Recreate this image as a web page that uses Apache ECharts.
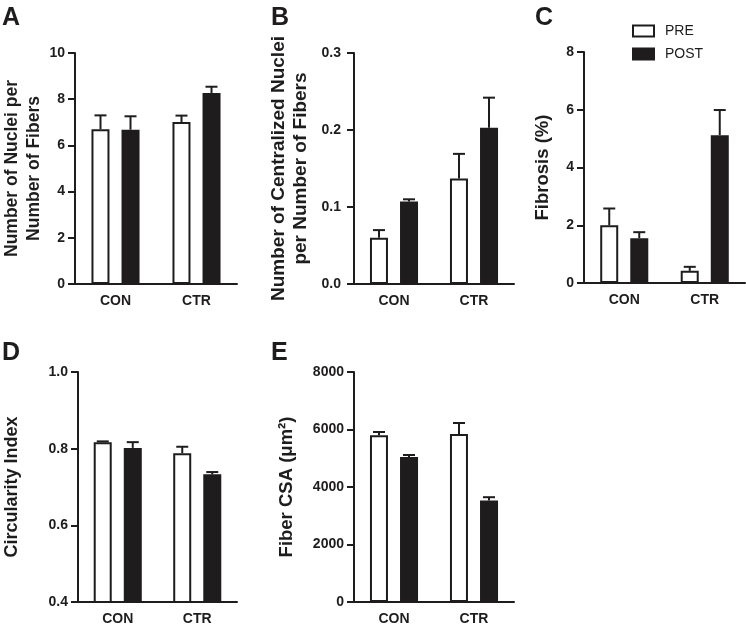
<!DOCTYPE html>
<html>
<head>
<meta charset="utf-8">
<script src="https://cdn.jsdelivr.net/npm/echarts@6/dist/echarts.min.js"></script>
<style>html,body{margin:0;padding:0;background:#fff;}#c{width:746px;height:632px;}</style>
</head>
<body>
<div id="c"></div>
<script>
const categories = ['CON', 'CTR'];
// Panel A: nuclei per fiber
const aPre = [6.70, 7.01], aPreCap = [7.30, 7.29];
const aPost = [6.68, 8.27], aPostCap = [7.26, 8.54];
// Panel B: centralized nuclei per fiber
const bPre = [0.060, 0.137], bPreCap = [0.070, 0.169];
const bPost = [0.107, 0.203], bPostCap = [0.110, 0.242];
// Panel C: fibrosis (%)
const cPre = [2.00, 0.42], cPreCap = [2.58, 0.56];
const cPost = [1.55, 5.12], cPostCap = [1.76, 5.99];
// Panel D: circularity index
const dPre = [0.817, 0.788], dPreCap = [0.819, 0.805];
const dPost = [0.802, 0.733], dPostCap = [0.817, 0.739];
// Panel E: fiber CSA
const ePre = [5798, 5843], ePreCap = [5913, 6226];
const ePost = [5043, 3530], ePostCap = [5113, 3645];

const FONT = "'Liberation Sans', Arial, sans-serif";
const INK = '#1e1c1d';

const panels = [
  {letter: 'A', pre: aPre, preCap: aPreCap, post: aPost, postCap: aPostCap, min: 0, max: 10, interval: 2, dec: 0,
   name: 'Number of Nuclei per\nNumber of Fibers', nameGap: 30, nameSize: 17.5, labelMargin: 10,
   grid: {left: 73, top: 53, width: 164, height: 231}, lx: -3, ly: 1},
  {letter: 'B', pre: bPre, preCap: bPreCap, post: bPost, postCap: bPostCap, min: 0, max: 0.3, interval: 0.1, dec: 1,
   name: 'Number of Centralized Nuclei\nper Number of Fibers', nameGap: 42, nameSize: 19, labelMargin: 13,
   grid: {left: 354, top: 53, width: 160, height: 231}, lx: 266, ly: 1},
  {letter: 'C', pre: cPre, preCap: cPreCap, post: cPost, postCap: cPostCap, min: 0, max: 8, interval: 2, dec: 0,
   name: 'Fibrosis (%)', nameGap: 30, nameSize: 18.5, labelMargin: 10,
   grid: {left: 584, top: 52, width: 161, height: 231}, lx: 530, ly: 1},
  {letter: 'D', pre: dPre, preCap: dPreCap, post: dPost, postCap: dPostCap, min: 0.4, max: 1.0, interval: 0.2, dec: 1,
   name: 'Circularity Index', nameGap: 55, nameSize: 18, labelMargin: 10,
   grid: {left: 73, top: 372, width: 164, height: 230}, lx: -3, ly: 336},
  {letter: 'E', pre: ePre, preCap: ePreCap, post: ePost, postCap: ePostCap, min: 0, max: 8000, interval: 2000, dec: 0,
   name: 'Fiber CSA (\u03bcm\u00b2)', nameGap: 56, nameSize: 18.5, labelMargin: 10,
   grid: {left: 354, top: 372, width: 160, height: 230}, lx: 266, ly: 336}
];

function errRender(off) {
  return function (params, api) {
    const x = api.value(0), m = api.value(1), u = api.value(2);
    const p0 = api.coord([x, m]);
    const p1 = api.coord([x, u]);
    const cx = p0[0] + off;
    const st = {stroke: INK, lineWidth: 2};
    return {type: 'group', children: [
      {type: 'line', shape: {x1: cx, y1: p0[1], x2: cx, y2: p1[1]}, style: st},
      {type: 'line', shape: {x1: cx - 6, y1: p1[1], x2: cx + 6, y2: p1[1]}, style: st}
    ]};
  };
}

const option = {
  animation: false,
  backgroundColor: '#fff',
  textStyle: {fontFamily: FONT},
  title: panels.map(p => ({text: p.letter, left: p.lx, top: p.ly,
    textStyle: {fontFamily: FONT, fontSize: 25, fontWeight: 'bold', color: INK}})),
  legend: {
    data: ['PRE', 'POST'], orient: 'vertical', left: 627, top: 19, itemWidth: 21, itemHeight: 11, itemGap: 9,
    icon: 'rect', selectedMode: false,
    textStyle: {fontFamily: FONT, fontSize: 14, color: INK, padding: [0, 0, 0, 6]}
  },
  grid: panels.map(p => Object.assign({containLabel: false}, p.grid)),
  xAxis: panels.map((p, i) => ({
    type: 'category', gridIndex: i, data: categories,
    axisLine: {lineStyle: {color: INK, width: 2}},
    axisTick: {alignWithLabel: true, length: 6, lineStyle: {color: INK, width: 2}},
    axisLabel: {fontFamily: FONT, fontSize: 14, fontWeight: 'bold', color: INK, margin: 10},
    splitLine: {show: false}
  })),
  yAxis: panels.map((p, i) => ({
    type: 'value', gridIndex: i, min: p.min, max: p.max, interval: p.interval,
    name: p.name, nameLocation: 'middle', nameGap: p.nameGap, nameRotate: 90,
    nameTextStyle: {fontFamily: FONT, fontSize: p.nameSize, fontWeight: 'bold', color: INK, lineHeight: 22},
    axisLine: {show: true, lineStyle: {color: INK, width: 2}},
    axisTick: {show: true, length: 7, lineStyle: {color: INK, width: 2}},
    axisLabel: {fontFamily: FONT, fontSize: 14, fontWeight: 'bold', color: INK, margin: p.labelMargin,
      formatter: v => v.toFixed(p.dec)},
    splitLine: {show: false}
  })),
  series: []
};

panels.forEach((p, i) => {
  option.series.push({
    name: 'PRE', type: 'bar', xAxisIndex: i, yAxisIndex: i, data: p.pre,
    barWidth: 18, barGap: '67%', z: 3,
    itemStyle: {color: '#ffffff', borderColor: INK, borderWidth: 2}
  });
  option.series.push({
    name: 'POST', type: 'bar', xAxisIndex: i, yAxisIndex: i, data: p.post,
    barWidth: 18, barGap: '67%', z: 3,
    itemStyle: {color: INK, borderColor: INK, borderWidth: 2}
  });
  option.series.push({
    type: 'custom', xAxisIndex: i, yAxisIndex: i, z: 2,
    data: p.pre.map((v, k) => [k, v, p.preCap[k]]),
    encode: {x: 0, y: [1, 2]}, renderItem: errRender(-15)
  });
  option.series.push({
    type: 'custom', xAxisIndex: i, yAxisIndex: i, z: 2,
    data: p.post.map((v, k) => [k, v, p.postCap[k]]),
    encode: {x: 0, y: [1, 2]}, renderItem: errRender(15)
  });
});

const chart = echarts.init(document.getElementById('c'), null, {renderer: 'canvas'});
chart.setOption(option);
</script>
</body>
</html>
